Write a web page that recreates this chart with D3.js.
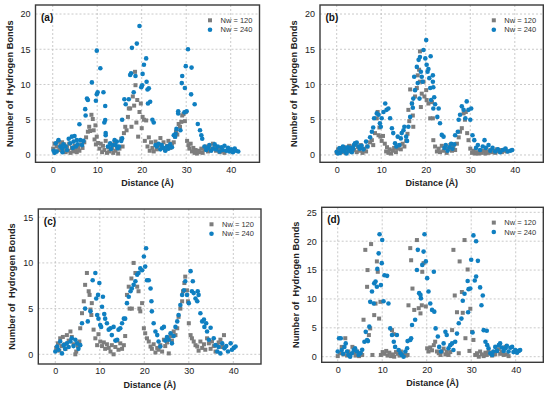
<!DOCTYPE html>
<html><head><meta charset="utf-8">
<script src="https://cdn.jsdelivr.net/npm/d3@7"></script>
<style>body{margin:0;background:#fff;} svg{display:block;}</style>
</head><body><svg id="chart" width="550" height="398"></svg>
<script>
const FONT = "Arial, 'Liberation Sans', sans-serif";
const xTicks = [0, 10, 20, 30, 40];
const yTicksAB = [0, 5, 10, 15, 20];
const yTicksC = [0, 5, 10, 15];
const yTicksD = [0, 5, 10, 15, 20, 25];
const seriesNames = ["Nw = 120", "Nw = 240"];
const panelLabels = ["(a)", "(b)", "(c)", "(d)"];
const xTitle = "Distance (\u00C5)";
const yTitle = "Number of  Hydrogen Bonds";

// panel (a)
const a120 = [[0.1,0.9],[0.4,1.6],[0.7,0.5],[0.9,1.2],[1.2,1.9],[1.5,0.7],[1.8,1.4],[2.1,1.8],[2.3,0.9],[2.6,1.5],[2.9,0.4],[3.2,1.2],[3.5,0.6],[3.7,1.6],[4.0,0.3],[4.3,1.0],[4.6,0.5],[4.9,1.3],[5.2,0.8],[5.4,0.4],[5.7,1.1],[6.0,0.6],[6.4,1.5],[6.7,1.0],[7.1,1.8],[7.5,2.5],[7.9,3.3],[8.2,4.0],[8.4,3.4],[8.7,5.7],[9.0,5.1],[9.2,3.5],[9.4,2.2],[9.6,4.2],[9.7,1.5],[9.9,2.6],[10.2,1.7],[10.5,0.9],[10.8,1.6],[11.1,0.4],[11.3,1.3],[11.6,0.7],[11.9,2.0],[12.2,0.3],[12.5,1.1],[12.7,0.5],[13.0,1.4],[13.3,0.9],[13.6,0.3],[13.9,1.7],[14.1,0.6],[14.4,1.2],[14.7,0.2],[15.0,0.9],[15.4,2.3],[15.7,1.2],[16.0,3.1],[16.3,4.0],[16.6,3.5],[16.9,5.4],[17.1,6.6],[17.4,6.6],[17.7,4.0],[18.0,8.3],[18.3,7.0],[18.5,11.8],[18.6,9.9],[18.8,4.6],[19.0,7.8],[19.2,2.6],[19.5,6.1],[19.8,7.3],[20.0,3.8],[20.2,5.4],[20.5,5.0],[20.7,2.0],[21.0,4.9],[21.3,1.2],[21.6,2.5],[21.8,0.6],[22.1,1.8],[22.4,1.0],[22.7,0.5],[23.1,1.9],[23.4,0.8],[23.8,1.4],[24.2,2.4],[24.5,1.0],[24.9,1.8],[25.3,0.7],[25.7,1.3],[26.0,2.0],[26.4,1.0],[26.8,1.6],[27.2,1.8],[27.5,2.6],[27.7,3.3],[28.0,2.9],[28.3,4.4],[28.6,4.0],[28.9,4.7],[29.1,5.6],[29.4,5.8],[29.7,4.8],[29.9,6.1],[30.2,2.0],[30.5,1.4],[30.7,0.9],[31.0,1.6],[31.3,0.5],[31.6,1.0],[31.9,0.3],[32.1,0.7],[32.4,0.2],[32.7,0.6],[33.0,0.4],[33.4,0.9],[33.7,0.3],[34.1,0.8],[34.5,1.2],[34.9,0.5],[35.2,1.1],[35.6,0.7],[36.0,1.6],[36.4,1.3],[36.7,0.6],[37.1,1.0],[37.5,0.4],[37.9,0.8],[38.2,0.5],[38.6,0.3]];
const a240 = [[0.2,0.6],[0.4,0.3],[0.7,1.65],[0.9,0.5],[1.3,2.1],[1.7,1.2],[2.1,0.95],[2.2,0.4],[2.4,1.5],[2.9,1.2],[3.2,0.7],[3.6,2.3],[3.9,1.65],[4.3,2.6],[4.5,1.0],[4.7,1.9],[4.9,2.7],[5.2,1.2],[5.4,2.1],[5.6,1.5],[6.0,4.35],[6.2,2.1],[6.6,1.4],[6.9,2.0],[7.3,6.5],[7.4,5.6],[7.7,8.0],[7.9,7.8],[8.8,10.3],[9.7,7.7],[9.9,8.6],[10.1,8.9],[9.9,14.8],[10.7,12.3],[11.4,8.9],[11.8,6.95],[11.8,4.96],[11.6,4.6],[11.9,3.1],[11.9,2.8],[12.4,1.2],[12.9,1.65],[13.1,0.85],[13.4,1.4],[13.9,2.1],[14.1,1.4],[14.4,1.9],[14.6,0.95],[14.9,1.2],[15.4,2.0],[15.6,2.35],[15.6,5.0],[16.1,7.9],[16.4,7.2],[17.1,7.9],[17.4,11.35],[17.6,11.6],[17.8,15.2],[18.2,8.9],[18.6,11.2],[18.9,15.8],[19.5,18.3],[19.9,9.6],[20.1,9.9],[20.2,11.5],[20.5,12.8],[21.0,13.7],[21.1,10.4],[21.3,9.3],[21.6,9.45],[21.4,7.3],[21.9,7.55],[22.4,5.0],[22.7,4.6],[23.1,1.4],[23.4,1.2],[23.8,1.6],[24.2,0.8],[24.5,1.4],[24.9,1.0],[25.3,0.6],[25.7,1.2],[26.0,0.9],[26.4,1.5],[26.8,1.1],[27.2,2.8],[27.5,2.6],[27.6,3.0],[27.8,3.7],[28.2,6.2],[28.2,5.9],[28.7,3.5],[29.0,10.2],[29.1,11.2],[29.6,6.05],[29.7,9.5],[29.9,12.6],[30.1,6.2],[30.4,15.0],[31.1,8.6],[31.2,12.4],[31.9,7.2],[32.6,4.4],[33.1,3.5],[33.4,2.8],[33.6,2.3],[34.1,1.2],[34.5,0.7],[34.9,1.0],[35.2,1.4],[35.6,0.6],[36.0,0.9],[36.4,1.5],[36.7,0.8],[37.1,1.2],[37.5,0.5],[37.9,1.1],[38.2,0.7],[38.6,1.3],[39.0,0.6],[39.4,1.0],[39.7,0.5],[40.1,0.8],[40.5,0.4],[40.9,0.9],[41.2,0.6],[41.7,0.5]];

// panel (b)
const b120 = [[0.0,0.3],[0.3,0.8],[0.6,0.5],[0.8,1.0],[1.1,0.4],[1.4,0.7],[1.7,1.1],[2.0,0.3],[2.2,0.9],[2.5,0.6],[2.8,1.3],[3.1,0.5],[3.4,1.0],[3.7,1.2],[3.9,0.7],[4.2,1.5],[4.5,0.4],[4.8,1.1],[5.1,0.6],[5.4,1.4],[5.8,0.3],[6.2,0.9],[6.6,0.5],[6.9,1.2],[7.5,1.8],[7.9,2.1],[8.2,1.4],[8.6,3.1],[9.0,5.2],[9.2,6.1],[9.4,2.8],[9.6,3.9],[9.8,2.6],[10.1,2.0],[10.4,2.7],[10.8,1.6],[11.1,0.5],[11.3,1.1],[11.6,0.3],[11.9,0.8],[12.2,0.2],[12.6,0.6],[12.9,1.0],[13.3,0.4],[13.7,0.9],[14.1,1.4],[14.4,0.8],[14.8,1.6],[15.2,1.2],[15.6,2.0],[15.9,3.0],[16.1,6.4],[16.3,4.8],[16.5,9.3],[18.7,14.7],[16.9,7.3],[17.1,5.6],[17.2,4.0],[17.6,8.3],[18.0,9.5],[18.2,11.3],[18.5,12.1],[18.7,10.4],[18.9,6.8],[19.1,8.7],[19.5,10.4],[19.7,8.3],[20.1,9.2],[20.2,7.8],[20.6,7.3],[21.0,5.2],[21.4,7.5],[21.6,5.2],[21.7,2.1],[22.1,1.2],[22.5,0.5],[22.9,0.9],[23.2,0.4],[23.6,1.3],[24.0,0.6],[24.4,1.0],[24.7,0.3],[25.1,0.8],[25.5,1.4],[25.9,0.6],[26.2,1.1],[26.6,0.7],[27.0,1.6],[27.4,2.5],[27.7,3.3],[28.1,3.8],[28.5,5.9],[28.8,5.0],[29.0,6.1],[29.3,3.1],[29.6,2.1],[30.0,0.9],[30.4,0.3],[30.7,0.6],[31.1,0.2],[31.5,0.4],[31.9,0.2],[32.2,0.5],[32.6,0.3],[33.0,0.6],[33.4,0.2],[33.7,0.5],[34.1,0.3],[34.5,0.7],[34.9,0.4],[35.2,0.6],[35.6,0.3],[36.0,0.8],[36.4,0.5],[36.7,0.7],[37.1,0.4],[37.5,0.6],[37.9,0.8],[38.2,0.5]];
const b240 = [[0.0,0.45],[0.3,0.2],[0.6,0.95],[0.8,0.3],[1.1,0.7],[1.4,1.2],[1.7,0.5],[2.0,0.9],[2.2,0.2],[2.5,1.1],[2.8,0.6],[3.1,1.0],[3.4,0.4],[3.7,0.9],[3.9,1.4],[4.1,1.65],[4.5,1.75],[4.9,1.2],[5.2,0.9],[5.6,1.3],[6.0,0.8],[6.6,1.9],[6.9,1.2],[7.5,2.5],[7.9,3.3],[8.2,3.9],[8.4,5.2],[9.0,5.9],[9.4,5.7],[9.7,4.5],[9.9,4.0],[10.1,5.2],[10.5,6.1],[10.9,7.3],[11.2,6.4],[11.6,6.6],[12.0,5.2],[12.4,3.8],[12.7,3.1],[13.1,1.65],[13.4,1.2],[13.7,2.6],[14.1,1.4],[14.4,2.35],[14.6,3.1],[15.0,3.5],[15.2,4.0],[15.6,2.6],[15.8,2.0],[16.1,4.0],[16.5,5.4],[16.9,7.3],[17.1,6.7],[17.2,8.0],[17.4,11.1],[17.6,9.2],[18.0,12.5],[18.2,10.2],[18.4,13.5],[18.6,8.0],[18.7,13.9],[18.9,11.8],[19.1,11.1],[19.3,10.4],[19.5,14.9],[19.9,13.7],[20.1,16.3],[20.2,12.8],[20.4,11.8],[20.6,12.2],[20.8,10.9],[21.0,9.5],[21.2,7.8],[21.1,14.0],[21.6,11.3],[21.6,10.4],[21.7,9.6],[21.9,8.2],[22.1,7.2],[21.7,6.6],[22.6,5.4],[22.9,6.6],[23.2,4.5],[23.6,2.85],[24.0,2.6],[24.2,1.0],[24.5,1.4],[24.9,0.6],[25.3,1.1],[25.7,1.6],[26.0,0.9],[26.4,1.5],[26.6,2.8],[27.2,3.3],[27.4,5.0],[27.7,5.7],[28.1,6.9],[28.5,6.4],[28.9,5.2],[29.2,7.6],[29.6,6.4],[30.0,5.0],[30.2,6.6],[30.5,2.8],[30.9,2.1],[31.3,1.0],[31.7,1.4],[32.2,0.7],[32.8,1.2],[33.2,2.1],[33.5,1.0],[34.1,1.4],[34.5,0.6],[35.0,1.0],[35.6,0.5],[36.2,0.8],[36.7,0.4],[37.3,0.7],[37.9,0.9],[38.4,0.5],[39.0,0.6],[39.4,0.7]];

// panel (c)
const c120 = [[0.2,0.7],[0.6,1.2],[0.9,0.4],[1.1,1.75],[1.4,0.9],[1.7,1.9],[2.1,1.1],[2.3,0.6],[2.6,2.1],[3.0,1.5],[3.4,2.5],[3.7,1.9],[4.1,1.1],[4.5,0.0],[4.7,0.3],[5.1,0.9],[5.4,1.4],[5.6,2.85],[6.0,4.5],[6.4,5.8],[6.7,7.6],[7.1,8.9],[7.5,6.9],[7.7,6.5],[7.9,4.9],[8.1,4.3],[8.2,5.6],[8.6,2.7],[9.0,1.75],[9.4,1.0],[9.7,2.2],[10.1,1.4],[10.5,0.9],[10.9,1.3],[11.2,0.6],[11.6,1.1],[12.0,0.7],[12.4,0.3],[12.7,1.0],[13.1,0.0],[13.5,0.8],[13.9,1.5],[14.2,0.5],[14.6,1.2],[15.0,0.6],[15.4,1.0],[15.7,2.0],[16.1,6.5],[16.5,7.4],[16.7,5.0],[17.1,8.3],[17.2,5.0],[17.6,10.0],[18.0,8.9],[18.4,7.4],[18.7,6.9],[18.9,5.0],[19.1,4.7],[19.5,5.6],[19.9,2.85],[20.2,2.3],[20.6,1.75],[21.0,1.4],[21.4,0.85],[21.7,0.6],[22.1,1.1],[22.5,0.2],[22.9,0.7],[23.2,0.5],[23.6,1.0],[24.0,0.3],[24.4,1.6],[24.7,0.9],[25.1,1.3],[25.5,0.1],[25.9,2.0],[26.2,1.5],[26.6,2.5],[27.0,2.1],[27.4,2.85],[27.7,4.1],[28.1,5.0],[28.5,5.8],[28.7,6.9],[29.0,7.8],[29.2,8.5],[29.6,7.0],[29.8,5.8],[30.0,3.4],[30.4,2.1],[30.7,1.75],[31.1,1.4],[31.5,1.0],[31.9,0.85],[32.2,0.4],[32.6,1.4],[33.0,0.7],[33.4,1.1],[33.7,0.5],[34.1,1.75],[34.5,1.2],[34.9,0.6],[35.2,1.4],[35.6,0.9],[36.0,0.3],[36.4,1.0],[36.7,1.3],[37.1,1.6],[37.5,0.8],[37.9,2.1]];
const c240 = [[0.0,0.3],[0.4,0.85],[0.7,0.5],[1.1,1.4],[1.5,0.1],[1.9,1.0],[2.2,0.6],[2.6,1.2],[3.0,0.8],[3.4,1.4],[3.7,1.75],[4.1,0.9],[4.5,1.6],[4.9,1.2],[5.2,0.6],[5.6,1.0],[6.0,3.4],[6.7,5.0],[7.3,3.6],[7.9,4.7],[8.4,8.1],[9.0,8.9],[9.2,6.1],[9.4,4.3],[9.6,6.5],[9.7,3.9],[9.9,7.8],[10.1,3.2],[10.3,3.0],[10.5,5.2],[10.7,6.3],[11.0,4.4],[11.2,3.9],[11.6,3.4],[12.0,2.7],[12.4,2.85],[12.7,2.1],[13.1,3.0],[13.5,1.5],[13.9,1.6],[14.2,2.7],[14.6,2.85],[15.0,3.4],[15.4,3.9],[15.7,3.9],[16.1,5.6],[16.5,6.3],[16.9,6.9],[17.2,7.2],[17.6,7.6],[18.0,8.0],[18.4,8.7],[18.7,8.9],[19.1,9.4],[19.5,9.2],[19.9,10.7],[20.2,9.6],[20.4,11.6],[20.6,8.1],[21.0,8.1],[21.4,7.2],[21.6,5.8],[21.7,4.7],[22.1,3.4],[22.5,2.5],[22.9,2.1],[23.2,1.4],[23.6,0.85],[24.0,2.85],[24.4,3.0],[24.7,1.5],[25.1,1.9],[25.5,1.6],[25.9,2.3],[26.2,1.2],[26.6,2.0],[27.0,3.0],[27.4,3.6],[27.7,4.3],[28.1,5.4],[28.5,6.5],[28.9,7.0],[29.2,8.0],[29.6,6.5],[30.0,5.6],[30.4,9.1],[30.7,6.9],[30.9,8.0],[31.1,6.7],[31.5,6.1],[31.9,5.8],[32.0,6.9],[32.2,6.5],[32.6,4.5],[33.0,3.6],[33.4,3.8],[33.5,3.0],[33.9,3.4],[34.1,2.5],[34.5,1.6],[34.9,2.9],[35.6,1.75],[36.0,1.0],[36.4,0.3],[36.7,0.8],[37.1,0.1],[37.5,1.2],[38.0,0.65],[38.4,0.9],[38.8,0.3],[39.4,1.2],[39.7,0.5],[40.1,0.7],[40.5,0.85]];

// panel (d)
const d120 = [[0.0,0.1],[0.5,0.6],[0.9,1.7],[1.3,0.4],[1.7,3.2],[2.1,0.2],[2.4,0.9],[2.8,0.3],[3.3,1.7],[3.7,0.8],[4.0,0.2],[4.4,0.9],[4.8,0.1],[5.2,0.6],[5.5,0.3],[5.8,6.4],[6.2,18.5],[6.6,12.1],[6.7,15.0],[7.0,3.75],[7.3,4.9],[7.5,19.5],[7.8,0.3],[8.2,7.2],[8.5,9.2],[8.8,16.5],[9.0,14.7],[9.3,6.6],[9.6,9.5],[9.7,0.3],[10.1,0.8],[10.5,0.5],[10.9,1.0],[11.2,0.2],[11.6,0.7],[12.0,0.1],[12.2,4.6],[12.6,3.9],[12.4,0.4],[12.7,0.0],[13.1,0.8],[13.5,0.5],[13.9,0.2],[14.2,0.9],[14.8,0.4],[15.4,0.2],[15.7,0.3],[15.9,8.9],[16.3,18.8],[16.5,16.7],[16.8,11.8],[17.2,8.1],[17.8,20.2],[18.2,8.4],[18.6,7.5],[18.9,8.9],[19.0,14.7],[19.3,16.2],[19.8,8.7],[20.1,1.45],[20.4,0.9],[20.8,1.6],[21.2,1.1],[21.6,2.0],[21.9,2.6],[22.3,0.9],[22.7,0.6],[23.1,0.3],[23.4,0.9],[23.8,1.4],[24.2,0.4],[24.5,0.9],[24.9,0.3],[25.3,0.8],[25.7,4.6],[26.0,18.5],[26.3,10.6],[26.8,7.7],[27.2,0.6],[27.4,16.5],[27.9,11.2],[28.1,7.6],[28.5,20.2],[28.7,3.2],[29.2,15.1],[29.6,1.0],[29.8,8.3],[30.2,4.3],[30.5,2.9],[30.9,0.3],[31.3,0.6],[31.7,0.0],[32.0,0.9],[32.4,0.4],[32.8,0.1],[33.2,0.7],[33.5,0.3],[33.9,0.9],[34.3,0.5],[34.7,0.2],[35.0,0.8],[35.4,0.4],[35.8,1.0],[36.2,1.3],[36.5,0.5],[36.9,0.8],[37.3,0.3],[37.7,1.7],[38.0,0.4],[38.4,0.1]];
const d240 = [[0.0,0.9],[0.3,3.2],[0.7,3.2],[0.9,1.15],[1.2,0.5],[1.5,1.7],[1.8,2.3],[2.1,0.9],[2.4,0.3],[2.8,0.0],[3.2,0.6],[3.6,1.15],[3.9,1.45],[4.3,0.9],[4.7,0.3],[5.1,0.6],[5.5,1.2],[6.0,2.6],[6.3,4.3],[6.6,2.9],[6.8,2.7],[7.1,5.2],[7.3,9.5],[7.7,11.3],[8.1,9.2],[8.2,12.7],[8.5,13.0],[8.8,12.1],[8.9,15.2],[9.2,17.9],[9.4,21.2],[9.7,12.4],[9.9,16.2],[10.0,20.2],[10.3,9.6],[10.5,14.1],[11.1,14.0],[11.4,9.2],[11.8,4.9],[12.2,3.75],[12.6,2.6],[12.9,1.7],[13.3,3.75],[13.7,1.15],[14.1,0.6],[14.4,0.3],[14.8,0.0],[15.2,0.9],[15.6,1.45],[15.7,2.7],[16.3,2.9],[16.5,3.2],[16.7,5.5],[17.4,6.4],[17.8,15.0],[18.0,18.5],[18.3,11.0],[18.6,10.7],[18.7,10.1],[19.0,15.9],[19.3,18.2],[19.5,21.2],[19.8,16.5],[20.1,13.6],[20.4,11.3],[20.8,9.2],[21.2,8.1],[21.6,14.7],[21.7,7.8],[22.0,4.9],[22.5,3.5],[22.8,1.7],[23.2,0.9],[23.8,2.3],[24.2,4.3],[24.5,3.75],[24.9,1.45],[25.3,2.0],[25.7,2.3],[26.0,1.15],[26.4,2.6],[26.8,4.0],[27.2,5.8],[27.8,6.6],[28.1,9.7],[28.5,10.9],[29.2,13.1],[29.3,7.7],[29.4,11.7],[29.8,11.8],[30.0,16.8],[30.3,4.2],[30.5,21.0],[30.8,13.2],[31.1,20.0],[31.1,13.9],[31.5,16.6],[32.0,12.0],[32.3,8.9],[32.6,10.6],[32.8,4.6],[33.2,2.6],[33.5,4.5],[33.6,2.0],[33.9,1.45],[34.3,0.6],[34.7,0.3],[35.0,0.9],[35.4,1.7],[35.8,1.0],[36.2,2.0],[36.5,2.3],[36.9,1.6],[37.3,1.0],[37.7,1.45],[38.0,1.9],[38.4,0.9],[38.8,1.55],[39.2,1.7],[39.5,0.8],[39.9,1.15],[40.3,0.7],[40.7,1.0],[41.0,1.15]];

const panels = [
  {label: panelLabels[0], L: 35.5, T: 5, R: 259.5, B: 162.3, xDom: [-3.87, 46.47], yDom: [-1.04, 21.28], yTicks: yTicksAB, s120: a120, s240: a240},
  {label: panelLabels[1], L: 320, T: 5, R: 543.3, B: 162.3, xDom: [-3.75, 46.4], yDom: [-1.04, 21.28], yTicks: yTicksAB, s120: b120, s240: b240},
  {label: panelLabels[2], L: 38.3, T: 209, R: 261, B: 364, xDom: [-3.82, 46.22], yDom: [-1.06, 15.9], yTicks: yTicksC, s120: c120, s240: c240},
  {label: panelLabels[3], L: 321.7, T: 207.3, R: 543.3, B: 362.3, xDom: [-3.6, 46.2], yDom: [-0.97, 25.87], yTicks: yTicksD, s120: d120, s240: d240}
];

const GRAY = "#7d7d7d", BLUE = "#0f7fc1";
const svg = d3.select("#chart");

panels.forEach(p => {
  const x = d3.scaleLinear().domain(p.xDom).range([p.L, p.R]);
  const y = d3.scaleLinear().domain(p.yDom).range([p.B, p.T]);
  const g = svg.append("g");

  g.append("rect").attr("x", p.L).attr("y", p.T).attr("width", p.R - p.L).attr("height", p.B - p.T).attr("fill", "#fff");

  g.append("g").selectAll("line").data(xTicks).join("line")
    .attr("x1", d => x(d)).attr("x2", d => x(d)).attr("y1", p.T).attr("y2", p.B)
    .attr("stroke", "#bdbdbd").attr("stroke-width", 0.8).attr("stroke-dasharray", "2,2");
  g.append("g").selectAll("line").data(p.yTicks).join("line")
    .attr("y1", d => y(d)).attr("y2", d => y(d)).attr("x1", p.L).attr("x2", p.R)
    .attr("stroke", "#bdbdbd").attr("stroke-width", 0.8).attr("stroke-dasharray", "2,2");

  const xa = g.append("g").attr("transform", `translate(0,${p.B})`)
    .call(d3.axisBottom(x).tickValues(xTicks).tickSize(0).tickPadding(4));
  xa.select(".domain").remove();
  xa.attr("font-size", 9).attr("font-family", FONT);
  xa.selectAll("text").attr("fill", "#222");

  const ya = g.append("g").attr("transform", `translate(${p.L},0)`)
    .call(d3.axisLeft(y).tickValues(p.yTicks).tickSize(0).tickPadding(5));
  ya.select(".domain").remove();
  ya.attr("font-size", 9).attr("font-family", FONT);
  ya.selectAll("text").attr("fill", "#222");

  g.append("g").selectAll("rect").data(p.s120).join("rect")
    .attr("x", d => x(d[0]) - 2).attr("y", d => y(d[1]) - 2)
    .attr("width", 4).attr("height", 4).attr("fill", GRAY);
  g.append("g").selectAll("circle").data(p.s240).join("circle")
    .attr("cx", d => x(d[0])).attr("cy", d => y(d[1])).attr("r", 2.3).attr("fill", BLUE);

  g.append("rect").attr("x", p.L).attr("y", p.T).attr("width", p.R - p.L).attr("height", p.B - p.T)
    .attr("fill", "none").attr("stroke", "#3a3a3a").attr("stroke-width", 1.4);

  g.append("text").attr("x", p.L + 5.5).attr("y", p.T + 15.5)
    .attr("font-family", FONT).attr("font-size", 10).attr("font-weight", "bold").attr("fill", "#111").text(p.label);

  // legend
  const lx = p.R - 49.5, ly1 = p.T + 15.3, ly2 = p.T + 24.7;
  g.append("rect").attr("x", lx - 2).attr("y", ly1 - 2).attr("width", 4).attr("height", 4).attr("fill", GRAY);
  g.append("circle").attr("cx", lx).attr("cy", ly2).attr("r", 2.3).attr("fill", BLUE);
  g.append("text").attr("x", p.R - 39).attr("y", ly1 + 2.6).attr("font-family", FONT).attr("font-size", 7.5).attr("fill", "#333").text(seriesNames[0]);
  g.append("text").attr("x", p.R - 39).attr("y", ly2 + 2.6).attr("font-family", FONT).attr("font-size", 7.5).attr("fill", "#333").text(seriesNames[1]);

  g.append("text").attr("x", (p.L + p.R) / 2).attr("y", p.B + 24).attr("text-anchor", "middle")
    .attr("font-family", FONT).attr("font-size", 9).attr("font-weight", "bold").attr("fill", "#222").text(xTitle);
  g.append("text").attr("transform", `translate(${p.L - 23},${(p.T + p.B) / 2}) rotate(-90)`).attr("text-anchor", "middle")
    .attr("font-family", FONT).attr("font-size", 9.3).attr("font-weight", "bold").attr("fill", "#222")
    .style("white-space", "pre").text(yTitle);
});
</script>
</body></html>
